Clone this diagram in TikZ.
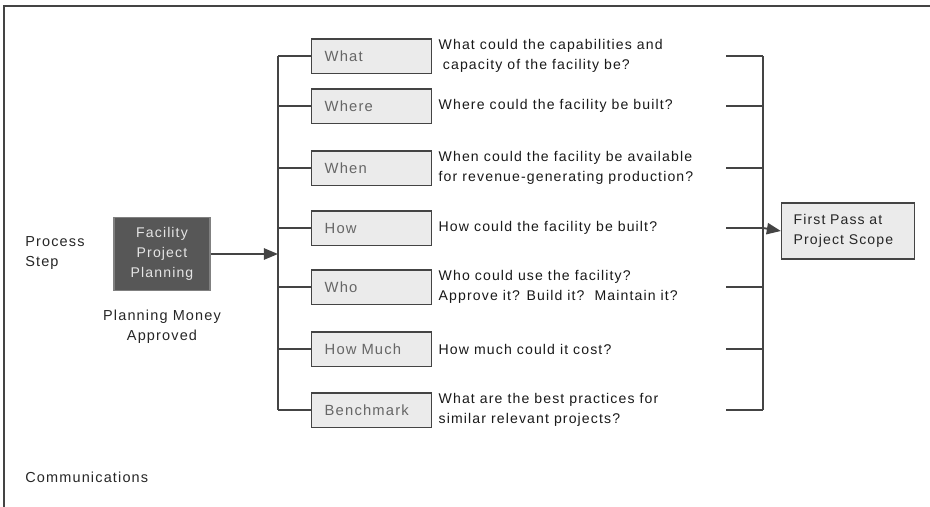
\documentclass[tikz,border=0pt]{standalone}
\usepackage{fontspec}
\setmainfont{Liberation Sans}[LetterSpace=8]
\usetikzlibrary{positioning, calc, arrows.meta}

\definecolor{linegray}{HTML}{444444}
\definecolor{boxfill}{HTML}{EBEBEB}
\definecolor{labelgray}{HTML}{666666}
\definecolor{darkfill}{HTML}{575757}

\tikzset{
  askbox/.style={draw=linegray, fill=boxfill, line width=1pt, anchor=west,
    minimum width=3cm, minimum height=0.86cm, inner xsep=0.3cm,
    text width=2.35cm, align=left, text=labelgray,
    font=\fontsize{10.5pt}{13pt}\selectfont},
  asktext/.style={anchor=west, align=left, inner sep=0pt, text=black!90,
    font=\fontsize{10pt}{14.2pt}\selectfont},
  plainlabel/.style={align=left, inner sep=0pt, text=black!85,
    font=\fontsize{10.3pt}{14.2pt}\selectfont},
  wire/.style={draw=linegray, line width=1.3pt},
  feed/.style={wire, -{Triangle[length=10pt, width=8pt, fill=linegray]}},
}

\begin{document}
\begin{tikzpicture}[x=0.025cm, y=-0.025cm]
    \useasboundingbox (0,0) rectangle (930,507);

    % Frame
    \draw[line width=1.6pt, linegray] (4,507) -- (4,6) -- (930,6);

    % Process step
    \node[plainlabel, anchor=west] (procstep) at (25,253) {Process\\Step};
    \node[draw=gray, fill=darkfill, text=white!90!black, line width=0.8pt,
          minimum width=2.4cm, minimum height=1.82cm, align=center,
          font=\fontsize{10pt}{14.2pt}\selectfont] (facility) at (162,254)
          {Facility\\Project\\Planning};
    \node[plainlabel, align=center, below=0.48cm of facility] (money)
          {Planning Money\\Approved};

    % Questions
    \foreach \n/\lbl/\y/\q in {
        what/What/56/{What could the capabilities and\\\hspace*{3pt}capacity of the facility be?},
        where/Where/106/{Where could the facility be built?},
        when/When/168/{When could the facility be available\\for revenue-generating production?},
        how/How/228/{How could the facility be built?},
        who/Who/287/{Who could use the facility?\\Approve it? Build it?\ \ Maintain it?},
        much/How Much/349/{How much could it cost?},
        bench/Benchmark/410/{What are the best practices for\\similar relevant projects?}} {
        \node[askbox] (\n) at (311,\y) {\lbl};
        \node[asktext, right=0.15cm of \n] (\n-q) {\q};
        \coordinate (lbus-\n) at (278,\y);
        \coordinate (rstub-\n) at (726,\y);
        \coordinate (rbus-\n) at (763,\y);
        \draw[wire] (lbus-\n) -- (\n);
        \draw[wire] (rstub-\n) -- (rbus-\n);
    }

    % Buses
    \draw[wire] (lbus-what) -- (lbus-bench);
    \draw[wire] (rbus-what) -- (rbus-bench);
    \draw[feed] (facility.east) -- (facility.east -| lbus-what);

    % Result
    \node[draw=linegray, fill=boxfill, line width=1pt, minimum width=3.32cm,
          minimum height=1.4cm, inner xsep=0.3cm, text width=2.72cm, align=left,
          text=black!85, font=\fontsize{10pt}{14.2pt}\selectfont] (scope)
          at (848,231) {First Pass at\\Project Scope};
    \draw[feed] (rbus-how) -- (scope.west);

    \node[plainlabel, anchor=west] (comms) at (25,477) {Communications};
\end{tikzpicture}
\end{document}
